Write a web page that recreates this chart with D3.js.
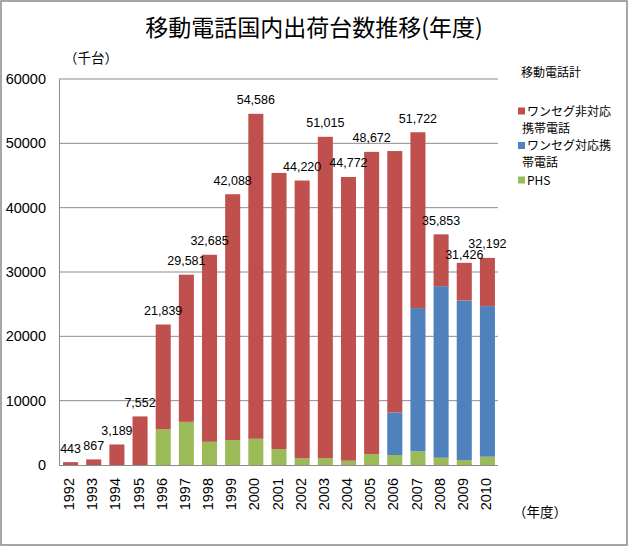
<!DOCTYPE html>
<html><head><meta charset="utf-8">
<script src="https://cdn.jsdelivr.net/npm/d3@7"></script>
<style>
html,body{margin:0;padding:0;background:#fff;}
svg{display:block;}
</style>
</head><body>
<svg id="chart" width="629" height="547"></svg>
<script>
const years = [1992,1993,1994,1995,1996,1997,1998,1999,2000,2001,2002,2003,2004,2005,2006,2007,2008,2009,2010];
const totals = [443,867,3189,7552,21839,29581,32685,42088,54586,45400,44220,51015,44772,48672,48800,51722,35853,31426,32192];
const phs = [0,0,0,0,5540,6710,3610,3880,4080,2480,1040,1040,670,1700,1550,2120,1130,780,1290];
const oneseg = [0,0,0,0,0,0,0,0,0,0,0,0,0,0,6600,22270,26670,24800,23410];
const hiddenLabels = [2001,2006];
const yTicks = [0,10000,20000,30000,40000,50000,60000];
const title = "移動電話国内出荷台数推移(年度)";
const unitLabel = "（千台）";
const xUnitLabel = "（年度）";
const totalName = "移動電話計";
const seriesNames = [["ワンセグ非対応","携帯電話"],["ワンセグ対応携","帯電話"],["PHS"]];
const colors = ["#C0504D","#4F81BD","#9BBB59"];

const nonOneseg = totals.map((t,i)=>t-phs[i]-oneseg[i]);
const rows = years.map((y,i)=>({year:y, phs:phs[i], oneseg:oneseg[i], non:nonOneseg[i], total:totals[i]}));

const svg = d3.select("#chart");
const cjk = "'Noto Sans CJK JP','Noto Sans',sans-serif";
const num = "'Liberation Sans',Arial,sans-serif";

svg.append("rect").attr("x",1).attr("y",1).attr("width",626).attr("height",544)
  .attr("fill","#fff").attr("stroke","#8a8a8a").attr("stroke-width",1.5);

const x = d3.scaleBand().domain(years).range([59,499]).paddingInner(0.35).paddingOuter(0.175);
const y = d3.scaleLinear().domain([0,60000]).range([465,79]);

// gridlines
svg.append("g").selectAll("line").data(yTicks.filter(d=>d>0)).join("line")
  .attr("x1",59).attr("x2",498).attr("y1",d=>y(d)).attr("y2",d=>y(d))
  .attr("stroke","#8c8c8c").attr("stroke-width",1);

// y axis
const yAxis = svg.append("g").attr("transform","translate(59,0)")
  .call(d3.axisLeft(y).tickValues(yTicks).tickFormat(d3.format("d")).tickSize(0).tickPadding(13));
yAxis.select(".domain").attr("stroke","#8c8c8c");
yAxis.selectAll("text").attr("font-family",num).attr("font-size","14.5px").attr("fill","#000");

// stacked bars
const stack = d3.stack().keys(["phs","oneseg","non"]);
const layers = stack(rows);
const layerColor = {phs:colors[2], oneseg:colors[1], non:colors[0]};
svg.append("g").selectAll("g").data(layers).join("g")
  .attr("fill",d=>layerColor[d.key])
  .selectAll("rect").data(d=>d).join("rect")
  .attr("x",d=>x(d.data.year)).attr("width",x.bandwidth())
  .attr("y",d=>y(d[1])).attr("height",d=>y(d[0])-y(d[1]));

// x axis
const xAxis = svg.append("g").attr("transform","translate(0,465)")
  .call(d3.axisBottom(x).tickSize(0).tickSizeOuter(0).tickPadding(0));
xAxis.select(".domain").attr("stroke","#8c8c8c").attr("d","M59,0.5H498");
xAxis.selectAll("text")
  .attr("font-family",num).attr("font-size","14.5px").attr("fill","#000")
  .attr("transform","rotate(-90)")
  .attr("text-anchor","end")
  .attr("x",-13).attr("y",-1.5).attr("dy","0.35em");

// total labels
const labelShift = {2009: 6};
svg.append("g").selectAll("text").data(rows.filter(r=>!hiddenLabels.includes(r.year))).join("text")
  .attr("x",d=>x(d.year)+x.bandwidth()/2)
  .attr("y",d=>y(d.total)-9.5+(labelShift[d.year]||0))
  .attr("text-anchor","middle")
  .attr("font-family",num).attr("font-size","12.5px").attr("fill","#000")
  .text(d=>d3.format(",")(d.total));

// title
svg.append("text").attr("x",314).attr("y",36).attr("text-anchor","middle")
  .attr("font-family",cjk).attr("font-size","23px").attr("fill","#000").text(title);

svg.append("text").attr("x",64).attr("y",63)
  .attr("font-family",cjk).attr("font-size","13.5px").attr("fill","#000").text(unitLabel);

svg.append("text").attr("x",513).attr("y",517)
  .attr("font-family",cjk).attr("font-size","13.5px").attr("fill","#000").text(xUnitLabel);

// legend
const lg = svg.append("g");
lg.append("text").attr("x",521).attr("y",77)
  .attr("font-family",cjk).attr("font-size","12px").attr("fill","#000").text(totalName);
const legY = [111,145.5,180];
seriesNames.forEach((lines,i)=>{
  lg.append("rect").attr("x",518).attr("y",legY[i]-3.5).attr("width",7).attr("height",7).attr("fill",colors[i]);
  lines.forEach((t,j)=>{
    lg.append("text").attr("x",j===0?527:522).attr("y",legY[i]+4.5+j*17)
      .attr("font-family",cjk).attr("font-size","12px").attr("fill","#000").text(t);
  });
});
</script>
</body></html>
